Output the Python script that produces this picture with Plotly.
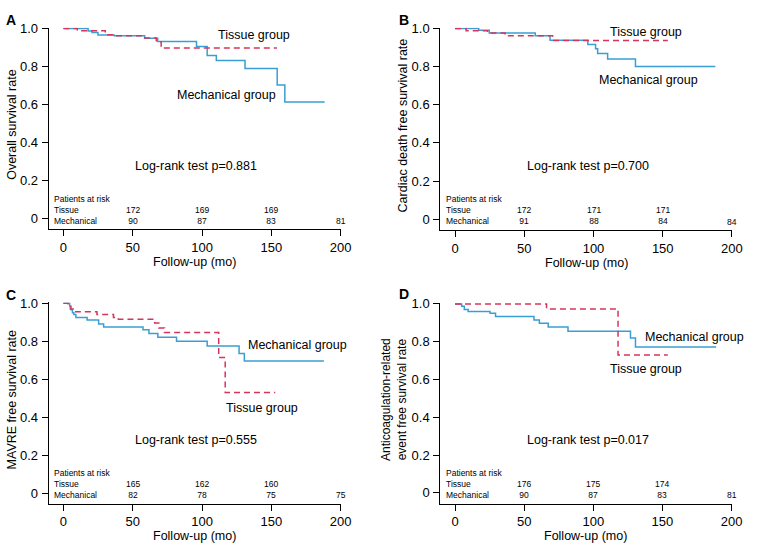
import plotly.graph_objects as go

# ---------------- data ----------------
# Panel A: overall survival
a_mech_t = [0, 17.8, 20.6, 24.9, 36.6, 58.6, 68, 96, 103.7, 110.3, 131, 154.2, 159.7, 188.4]
a_mech_s = [1.0, 0.987, 0.978, 0.966, 0.961, 0.948, 0.931, 0.905, 0.857, 0.831, 0.789, 0.702, 0.613, 0.613]
a_tis_t = [0, 10, 30.2, 36.6, 58.6, 67, 70.5, 154]
a_tis_s = [1.0, 0.988, 0.967, 0.961, 0.95, 0.93, 0.897, 0.897]

# Panel B: cardiac death free survival
b_mech_t = [0, 17.1, 24.7, 57.9, 68.6, 95.9, 101.5, 103, 110.2, 130.3, 188]
b_mech_s = [1.0, 0.99, 0.976, 0.961, 0.938, 0.916, 0.893, 0.869, 0.84, 0.80, 0.80]
b_tis_t = [0, 8, 23.5, 36.1, 70.5, 153.7]
b_tis_s = [1.0, 0.988, 0.976, 0.962, 0.937, 0.937]

# Panel C: MAVRE free survival
c_mech_t = [0, 4.5, 5.5, 6.5, 7.5, 9, 17.1, 25.4, 29, 57.4, 61.7, 68.1, 81.6, 103.7, 126.7, 130.5, 187.9]
c_mech_s = [1.0, 0.985, 0.965, 0.95, 0.94, 0.924, 0.912, 0.89, 0.874, 0.86, 0.84, 0.821, 0.80, 0.774, 0.735, 0.696, 0.696]
c_tis_t = [0, 3.3, 5, 7, 24.2, 36.1, 39.6, 65.8, 68.8, 72.9, 112, 116.7, 152.8]
c_tis_s = [1.0, 0.986, 0.97, 0.955, 0.941, 0.924, 0.916, 0.895, 0.869, 0.846, 0.714, 0.529, 0.529]

# Panel D: anticoagulation-related event free survival
d_mech_t = [0, 4.8, 6.7, 9.5, 25.3, 29.3, 57.1, 61, 67.4, 81.7, 126.9, 130.5, 188.9]
d_mech_s = [1.0, 0.988, 0.97, 0.96, 0.95, 0.933, 0.915, 0.898, 0.877, 0.855, 0.82, 0.772, 0.772]
d_tis_t = [0, 66.2, 117.9, 153.9]
d_tis_s = [1.0, 0.973, 0.730, 0.730]

# Patients at risk
risk_times = [50, 100, 150, 200]
a_risk_tis = [172, 169, 169]
a_risk_mech = [90, 87, 83, 81]
b_risk_tis = [172, 171, 171]
b_risk_mech = [91, 88, 84, 84]
c_risk_tis = [165, 162, 160]
c_risk_mech = [82, 78, 75, 75]
d_risk_tis = [176, 175, 174]
d_risk_mech = [90, 87, 83, 81]
risk_labels = ["Patients at risk", "Tissue", "Mechanical"]

x_ticks = [0, 50, 100, 150, 200]
y_ticks = [0, 0.2, 0.4, 0.6, 0.8, 1.0]
y_ticktext = ["0", "0.2", "0.4", "0.6", "0.8", "1.0"]

y_titles = ["Overall survival rate", "Cardiac death free survival rate",
            "MAVRE free survival rate", "Anticoagulation-related<br>event free survival rate"]
p_values = ["Log-rank test p=0.881", "Log-rank test p=0.700",
            "Log-rank test p=0.555", "Log-rank test p=0.017"]
letters = ["A", "B", "C", "D"]

# ---------------- layout ----------------
W, H = 760, 550
FONT = "Arial, Liberation Sans, Helvetica, sans-serif"
BLUE = "rgb(58,158,212)"
RED = "rgb(214,52,92)"
XR = [-10.7, 200]
YR = [-0.057, 1.004]
RISK_FS = 8.5
LINE = 1.3 * RISK_FS  # plotly line spacing


def px(x):
    return x / W


def py(y):
    return 1 - y / H


panels = [
    dict(L=49.3, R=345.7, T=21.7, B=225.3, ytx=12, letter=(11, 13),
         tis=(258, 28), mech=(229.7, 89.3), lr=(198.8, 160.7),
         data=(a_mech_t, a_mech_s, a_tis_t, a_tis_s, a_risk_tis, a_risk_mech)),
    dict(L=446.7, R=742.7, T=21.7, B=226.0, ytx=409, letter=(410, 13),
         tis=(655, 25), mech=(657.7, 74), lr=(596.7, 161),
         data=(b_mech_t, b_mech_s, b_tis_t, b_tis_s, b_risk_tis, b_risk_mech)),
    dict(L=49.3, R=345.7, T=300.0, B=503.3, ytx=12, letter=(11, 291.5),
         tis=(265.7, 405.7), mech=(302.3, 342.7), lr=(198.8, 438.3),
         data=(c_mech_t, c_mech_s, c_tis_t, c_tis_s, c_risk_tis, c_risk_mech)),
    dict(L=446.7, R=742.3, T=300.7, B=503.0, ytx=400, letter=(410, 290.7),
         tis=(655.3, 367), mech=(704.7, 334.3), lr=(596.3, 438.3),
         data=(d_mech_t, d_mech_s, d_tis_t, d_tis_s, d_risk_tis, d_risk_mech)),
]

fig = go.Figure()
annotations = []
layout_axes = {}

for i, p in enumerate(panels):
    n = "" if i == 0 else str(i + 1)
    xa, ya = "x" + n, "y" + n
    scale = (p["B"] - p["T"]) / (1 - YR[0])
    top = p["T"] - (YR[1] - 1) * scale
    mech_t, mech_s, tis_t, tis_s, r_tis, r_mech = p["data"]

    fig.add_trace(go.Scatter(x=mech_t, y=mech_s, mode="lines", line_shape="hv",
                             line=dict(color=BLUE, width=1.5), xaxis=xa, yaxis=ya,
                             showlegend=False, hoverinfo="skip"))
    fig.add_trace(go.Scatter(x=tis_t, y=tis_s, mode="lines", line_shape="hv",
                             line=dict(color=RED, width=1.5, dash="6px,4px"), xaxis=xa, yaxis=ya,
                             showlegend=False, hoverinfo="skip"))

    layout_axes["xaxis" + n] = dict(
        domain=[px(p["L"]), px(p["R"])], range=XR, anchor=ya,
        showline=True, linecolor="black", linewidth=1, ticks="outside", ticklen=6,
        tickcolor="black", tickwidth=1, tickvals=x_ticks, showgrid=False, zeroline=False,
        tickfont=dict(family=FONT, size=13, color="black"))
    layout_axes["yaxis" + n] = dict(
        domain=[py(p["B"]), py(top)], range=YR, anchor=xa,
        showline=True, linecolor="black", linewidth=1, ticks="outside", ticklen=6,
        tickcolor="black", tickwidth=1, tickvals=y_ticks, ticktext=y_ticktext,
        showgrid=False, zeroline=False,
        tickfont=dict(family=FONT, size=13, color="black"), ticklabelstandoff=1)

    def ann(text, x, y, size=12.5, **kw):
        d = dict(text=text, x=px(x), y=py(y), xref="paper", yref="paper",
                 showarrow=False, font=dict(family=FONT, size=size, color="black"),
                 xanchor="center", yanchor="middle")
        d.update(kw)
        annotations.append(d)

    ann("<b>" + letters[i] + "</b>", p["letter"][0], p["letter"][1], size=14)
    ann("Tissue group", *p["tis"])
    ann("Mechanical group", *p["mech"])
    ann(p_values[i], *p["lr"])
    ann("Follow-up (mo)", (p["L"] + p["R"]) / 2, p["B"] + 33)
    ann(y_titles[i], p["ytx"], (p["T"] + p["B"]) / 2 - 4, textangle=-90,
        size=12 if i == 3 else 12.5)

    # risk table (data coordinates; one block per column so rows stay tight)
    small = dict(family=FONT, size=RISK_FS, color="black")
    tis_row = 0.046
    annotations.append(dict(text="<br>".join(risk_labels), x=-7.5, y=tis_row, xref=xa, yref=ya,
                            showarrow=False, font=small, xanchor="left", yanchor="middle",
                            align="left", borderpad=0))
    for k, t in enumerate(risk_times):
        if k < len(r_tis):
            txt = f"{r_tis[k]}<br>{r_mech[k]}"
            shift = -LINE / 2
        else:
            txt = str(r_mech[k])
            shift = -LINE
        annotations.append(dict(text=txt, x=t, y=tis_row, yshift=shift, xref=xa, yref=ya,
                                showarrow=False, font=small, xanchor="center",
                                yanchor="middle", align="center", borderpad=0))

fig.update_layout(
    width=W, height=H, autosize=False,
    margin=dict(l=0, r=0, t=0, b=0),
    paper_bgcolor="white", plot_bgcolor="white",
    font=dict(family=FONT, color="black"),
    annotations=annotations,
    **layout_axes,
)

fig.write_html("out.html", config={"displayModeBar": False},
               post_script="document.body.style.margin='0';")
